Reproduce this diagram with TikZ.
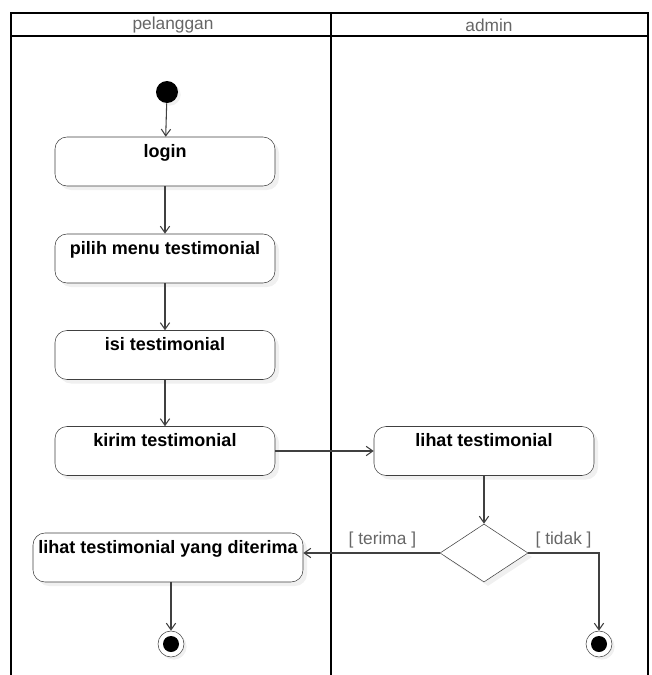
\documentclass[tikz,border=0pt]{standalone}
\usepackage{fontspec}
\setmainfont{Liberation Sans}
\usetikzlibrary{shapes.geometric,shadows}
\tikzset{
  act/.style={draw=black!75,rounded corners=9pt,fill=white,minimum width=165pt,
    inner ysep=0pt,text height=15pt,text depth=21.75pt,font=\fontsize{13.5}{15}\selectfont\bfseries,
    drop shadow={opacity=0.12,shadow xshift=3pt,shadow yshift=-3pt}},
  flow/.style={draw=black!75,->,>={Straight Barb[length=5pt,width=7pt]},thick},
  guard/.style={font=\fontsize{13}{15}\selectfont,text=black!60}
}
\usetikzlibrary{arrows.meta}
\begin{document}
\begin{tikzpicture}[x=0.75pt,y=-0.75pt]
      \useasboundingbox (0,0) rectangle (651,675);
      % lanes
      \draw[thick] (11,675) -- (11,13) -- (648,13) -- (648,675);
      \draw[thick] (11,36) -- (648,36);
      \draw[thick] (331,13) -- (331,675);
      \node[font=\fontsize{13}{15}\selectfont,text=black!60] (lane1) at (173,25) {pelanggan};
      \node[font=\fontsize{13}{15}\selectfont,text=black!60] (lane2) at (489,25) {admin};
      % nodes
      \node[circle,fill=black,minimum size=16.5pt,inner sep=0pt,
        drop shadow={opacity=0.12,shadow xshift=2pt,shadow yshift=-2pt}] (start) at (167,92) {};
      \node[act] (login) at (165,161.5) {login};
      \node[act] (menu) at (165,258.5) {pilih menu testimonial};
      \node[act] (isi) at (165,355) {isi testimonial};
      \node[act] (kirim) at (165,451) {kirim testimonial};
      \node[act] (lihat) at (484,451) {lihat testimonial};
      \node[diamond,draw=black!75,fill=white,aspect=1.55,minimum width=66pt,minimum height=43.5pt,inner sep=0pt,
        drop shadow={opacity=0.12,shadow xshift=3pt,shadow yshift=-3pt}] (cek) at (484,553) {};
      \node[act,minimum width=202.5pt] (terima) at (168,557.5) {lihat testimonial yang diterima};
      \node[circle,draw=black!75,fill=white,minimum size=19.5pt,inner sep=0pt,
        drop shadow={opacity=0.12,shadow xshift=2pt,shadow yshift=-2pt}] (end1) at (171,644) {};
      \node[circle,fill=black,minimum size=12pt,inner sep=0pt] at (end1) {};
      \node[circle,draw=black!75,fill=white,minimum size=19.5pt,inner sep=0pt,
        drop shadow={opacity=0.12,shadow xshift=2pt,shadow yshift=-2pt}] (end2) at (599,644) {};
      \node[circle,fill=black,minimum size=12pt,inner sep=0pt] at (end2) {};
      % flows
      \draw[flow] (start) -- (login);
      \draw[flow] (login) -- (menu);
      \draw[flow] (menu) -- (isi);
      \draw[flow] (isi) -- (kirim);
      \draw[flow] (kirim) -- (lihat);
      \draw[flow] (lihat) -- (cek);
      \draw[flow] (cek.west) -- (terima.east |- cek.west) node[guard,pos=0.42,above] {[ terima ]};
      \draw[flow] (cek.east) -| (end2) node[guard,pos=0.25,above] {[ tidak ]};
      \draw[flow] (terima.south -| end1) -- (end1);
    \end{tikzpicture}
\end{document}
